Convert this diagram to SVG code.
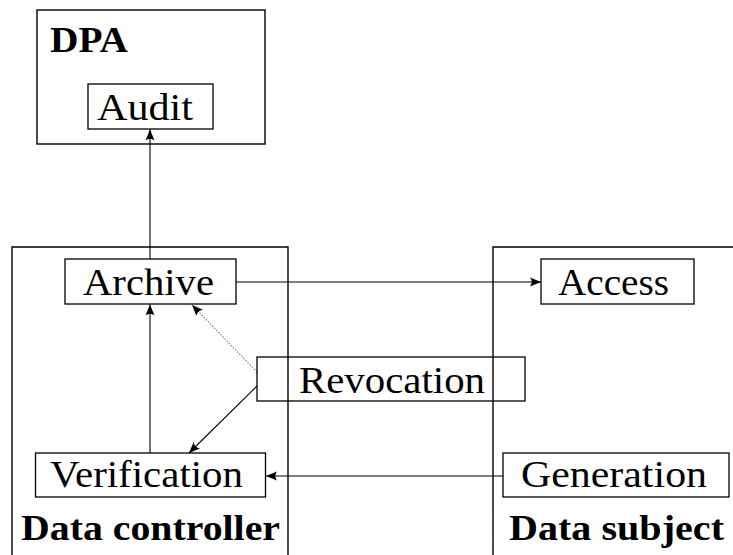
<svg xmlns="http://www.w3.org/2000/svg" width="733" height="555" viewBox="0 0 733 555">
<style>
.container{fill:none;stroke:#000;stroke-width:1.4}
.box{fill:none;stroke:#000;stroke-width:1.3}
.lbl{font-family:"Liberation Serif",serif;font-size:38px;fill:#000}
.title{font-family:"Liberation Serif",serif;font-size:35px;font-weight:bold;fill:#000}
.conn{fill:none;stroke:#000;stroke-width:1.1}
.dot{fill:none;stroke:#777;stroke-width:1.1;stroke-dasharray:1.5 1.5}
</style>
<defs>
<marker id="ah" markerUnits="userSpaceOnUse" markerWidth="14" markerHeight="12" viewBox="-12 -6 14 12" refX="0" refY="0" orient="auto">
<path d="M0,0 L-11,-4.5 Q-7.5,0 -11,4.5 Z" fill="#000"/>
</marker>
</defs>
<g id="dpa">
<rect class="container" x="37" y="10" width="228" height="134"/>
<text class="title" x="50" y="52" textLength="78" lengthAdjust="spacingAndGlyphs">DPA</text>
</g>
<g id="data-controller">
<path class="container" d="M12,555 V247 H288 V555"/>
<text class="title" x="21" y="540" textLength="259" lengthAdjust="spacingAndGlyphs">Data controller</text>
</g>
<g id="data-subject">
<path class="container" d="M493,555 V247 H733"/>
<text class="title" x="509" y="540" textLength="215" lengthAdjust="spacingAndGlyphs">Data subject</text>
</g>
<g id="connectors">
<line class="conn" x1="150" y1="259" x2="150" y2="129.5" marker-end="url(#ah)"/>
<line class="conn" x1="236" y1="282" x2="541" y2="282" marker-end="url(#ah)"/>
<line class="conn" x1="150" y1="453" x2="150" y2="304.5" marker-end="url(#ah)"/>
<line class="dot" x1="257" y1="372" x2="192" y2="305" marker-end="url(#ah)"/>
<line class="conn" x1="257" y1="386" x2="189" y2="453" marker-end="url(#ah)"/>
<line class="conn" x1="503" y1="476" x2="266" y2="476" marker-end="url(#ah)"/>
</g>
<g id="audit">
<rect class="box" x="88" y="84" width="125" height="45"/>
<text class="lbl" x="97" y="120" textLength="96" lengthAdjust="spacingAndGlyphs">Audit</text>
</g>
<g id="archive">
<rect class="box" x="65" y="259" width="171" height="45"/>
<text class="lbl" x="83" y="295" textLength="131" lengthAdjust="spacingAndGlyphs">Archive</text>
</g>
<g id="access">
<rect class="box" x="541" y="259" width="153" height="45"/>
<text class="lbl" x="558" y="295" textLength="111" lengthAdjust="spacingAndGlyphs">Access</text>
</g>
<g id="revocation">
<rect class="box" x="257" y="357" width="268" height="44"/>
<text class="lbl" x="299" y="393" textLength="186" lengthAdjust="spacingAndGlyphs">Revocation</text>
</g>
<g id="verification">
<rect class="box" x="35.5" y="453" width="230" height="44"/>
<text class="lbl" x="50" y="487" textLength="193" lengthAdjust="spacingAndGlyphs">Verification</text>
</g>
<g id="generation">
<rect class="box" x="503" y="453" width="226" height="44"/>
<text class="lbl" x="521" y="487" textLength="186" lengthAdjust="spacingAndGlyphs">Generation</text>
</g>
</svg>
